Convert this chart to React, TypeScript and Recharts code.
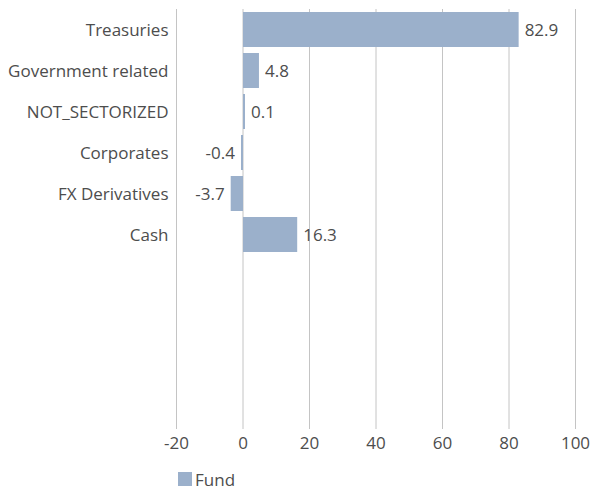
import { BarChart, Bar, XAxis, YAxis, CartesianGrid, LabelList, Legend } from "recharts";

const sectors = ["Treasuries", "Government related", "NOT_SECTORIZED", "Corporates", "FX Derivatives", "Cash"];
const fundValues = [82.9, 4.8, 0.1, -0.4, -3.7, 16.3];
const xTicks = [-20, 0, 20, 40, 60, 80, 100];

const data = sectors.map((name, i) => ({ name, fund: fundValues[i] }));

const BAR_COLOR = "#9bb0cb";
const TEXT = "#4d4d4d";
const FONT = "'Open Sans', Lato, sans-serif";
const FS = 17;

const FundLegend = () => (
  <div style={{ display: "flex", alignItems: "center", height: 20, marginLeft: 170, fontFamily: FONT, fontSize: FS, color: TEXT }}>
    <span style={{ width: 14, height: 14, backgroundColor: BAR_COLOR, display: "inline-block", marginRight: 3 }} />
    Fund
  </div>
);

export default function App() {
  // absolute so the page never grows a scrollbar
  return (
    <div style={{ position: "absolute", top: 8, left: 8 }}>
      <BarChart
        width={584}
        height={482}
        data={data}
        layout="vertical"
        margin={{ top: 1, right: 16.5, left: 0, bottom: 1 }}
      >
        <CartesianGrid horizontal={false} stroke="#c4c4c4" />
        <XAxis
          type="number"
          domain={[-20, 100]}
          ticks={xTicks}
          axisLine={false}
          tickLine={false}
          tick={{ fontSize: FS, fill: TEXT, fontFamily: FONT }}
          tickMargin={2}
          height={40}
        />
        <YAxis
          type="category"
          dataKey="name"
          width={168.5}
          axisLine={false}
          tickLine={false}
          padding={{ top: 0, bottom: 174 }}
          tick={{ fontSize: FS, fill: TEXT, fontFamily: FONT }}
        />
        <Legend verticalAlign="bottom" height={20} content={() => <FundLegend />} />
        <Bar dataKey="fund" fill={BAR_COLOR} barSize={35} minPointSize={2} isAnimationActive={false}>
          <LabelList dataKey="fund" position="right" offset={6} style={{ fontSize: FS, fill: TEXT, fontFamily: FONT }} />
        </Bar>
      </BarChart>
    </div>
  );
}
